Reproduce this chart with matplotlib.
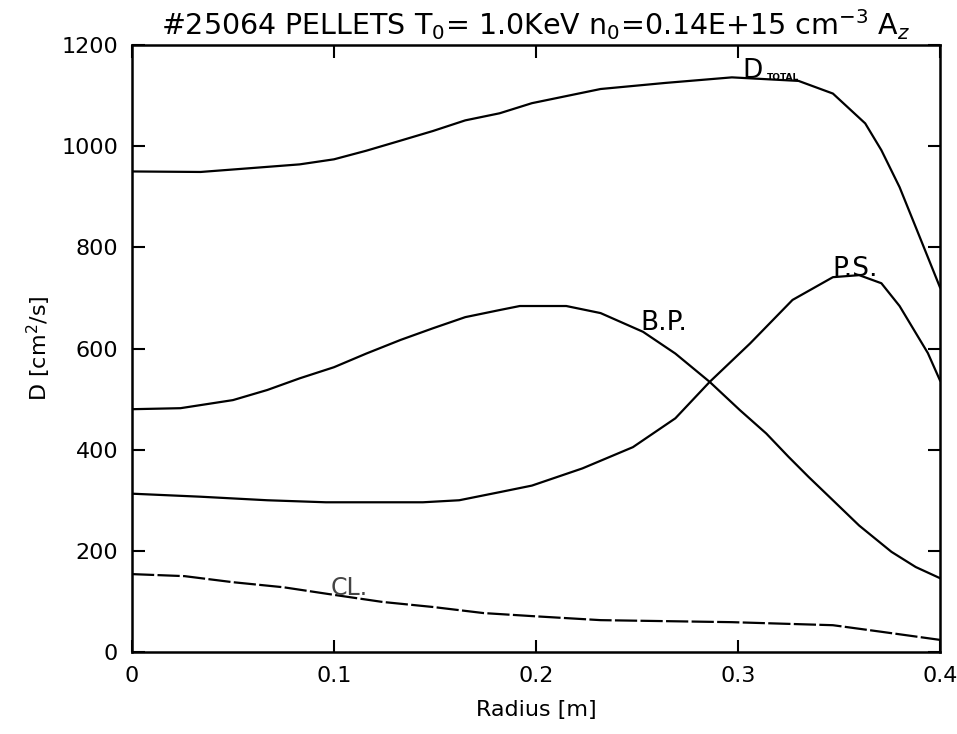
import matplotlib
matplotlib.use("Agg")
import matplotlib.pyplot as plt

# values
r_total = [0.0, 0.034, 0.057, 0.083, 0.100, 0.116, 0.133, 0.149, 0.165, 0.182, 0.198,
           0.232, 0.264, 0.297, 0.330, 0.347, 0.363, 0.371, 0.380, 0.388, 0.400]
d_total = [950, 949, 956, 964, 974, 991, 1011, 1030, 1051, 1065, 1085,
           1113, 1125, 1136, 1129, 1104, 1045, 992, 919, 840, 721]

r_bp = [0.0, 0.024, 0.050, 0.067, 0.083, 0.100, 0.116, 0.133, 0.149, 0.165, 0.182, 0.192,
        0.215, 0.232, 0.253, 0.269, 0.286, 0.301, 0.314, 0.325, 0.335, 0.347, 0.360,
        0.376, 0.388, 0.400]
d_bp = [480, 482, 498, 518, 541, 563, 590, 617, 640, 662, 676, 684,
        684, 670, 633, 590, 534, 478, 432, 386, 346, 300, 250,
        198, 168, 146]

r_ps = [0.0, 0.034, 0.067, 0.096, 0.144, 0.162, 0.182, 0.198, 0.223, 0.248, 0.269,
        0.286, 0.306, 0.327, 0.347, 0.360, 0.371, 0.380, 0.394, 0.400]
d_ps = [313, 307, 300, 296, 296, 300, 316, 329, 363, 405, 462,
        534, 610, 696, 741, 745, 729, 684, 591, 537]

r_cl = [0.0, 0.026, 0.050, 0.075, 0.100, 0.124, 0.149, 0.174, 0.198, 0.232, 0.297,
        0.347, 0.371, 0.400]
d_cl = [154, 150, 138, 128, 113, 99, 89, 77, 71, 63, 59, 53, 40, 24]

xticks = [0, 0.1, 0.2, 0.3, 0.4]
xticklabels = ["0", "0.1", "0.2", "0.3", "0.4"]
yticks = [0, 200, 400, 600, 800, 1000, 1200]

plt.rcParams["font.family"] = ["DejaVu Sans"]

fig = plt.figure(figsize=(9.57, 7.34), dpi=100)
ax = fig.add_axes([0.1379, 0.1117, 0.8443, 0.8270])

lw = 1.6
ax.plot(r_total, d_total, color="black", lw=lw)
ax.plot(r_bp, d_bp, color="black", lw=lw)
ax.plot(r_ps, d_ps, color="black", lw=lw)
ax.plot(r_cl, d_cl, color="black", lw=lw, dashes=(10, 1.5))

ax.set_xlim(0, 0.4)
ax.set_ylim(0, 1200)
ax.set_xticks(xticks)
ax.set_xticklabels(xticklabels)
ax.set_yticks(yticks)

ax.tick_params(direction="in", length=9, width=1.5, top=True, right=True,
               labelsize=16, pad=10)
for s in ax.spines.values():
    s.set_linewidth(1.8)

ax.set_xlabel("Radius [m]", fontsize=16, labelpad=10)
ax.set_ylabel("D [cm$^2$/s]", fontsize=16, labelpad=6)
ax.set_title("#25064 PELLETS T$_0$= 1.0KeV n$_0$=0.14E+15 cm$^{-3}$ A$_z$",
             fontsize=20.5, pad=7)

# curve labels
ax.text(0.302, 1134, "D", fontsize=19, va="baseline", ha="left")
ax.text(0.3145, 1130, "TOTAL", fontsize=6.5, va="baseline", ha="left", fontweight="bold")
ax.text(0.2515, 636, "B.P.", fontsize=19, va="baseline", ha="left")
ax.text(0.3465, 744, "P.S.", fontsize=19, va="baseline", ha="left")
ax.text(0.0985, 112, "CL.", fontsize=17, va="baseline", ha="left", color="#444444")

fig.savefig("out.png", dpi=100)
